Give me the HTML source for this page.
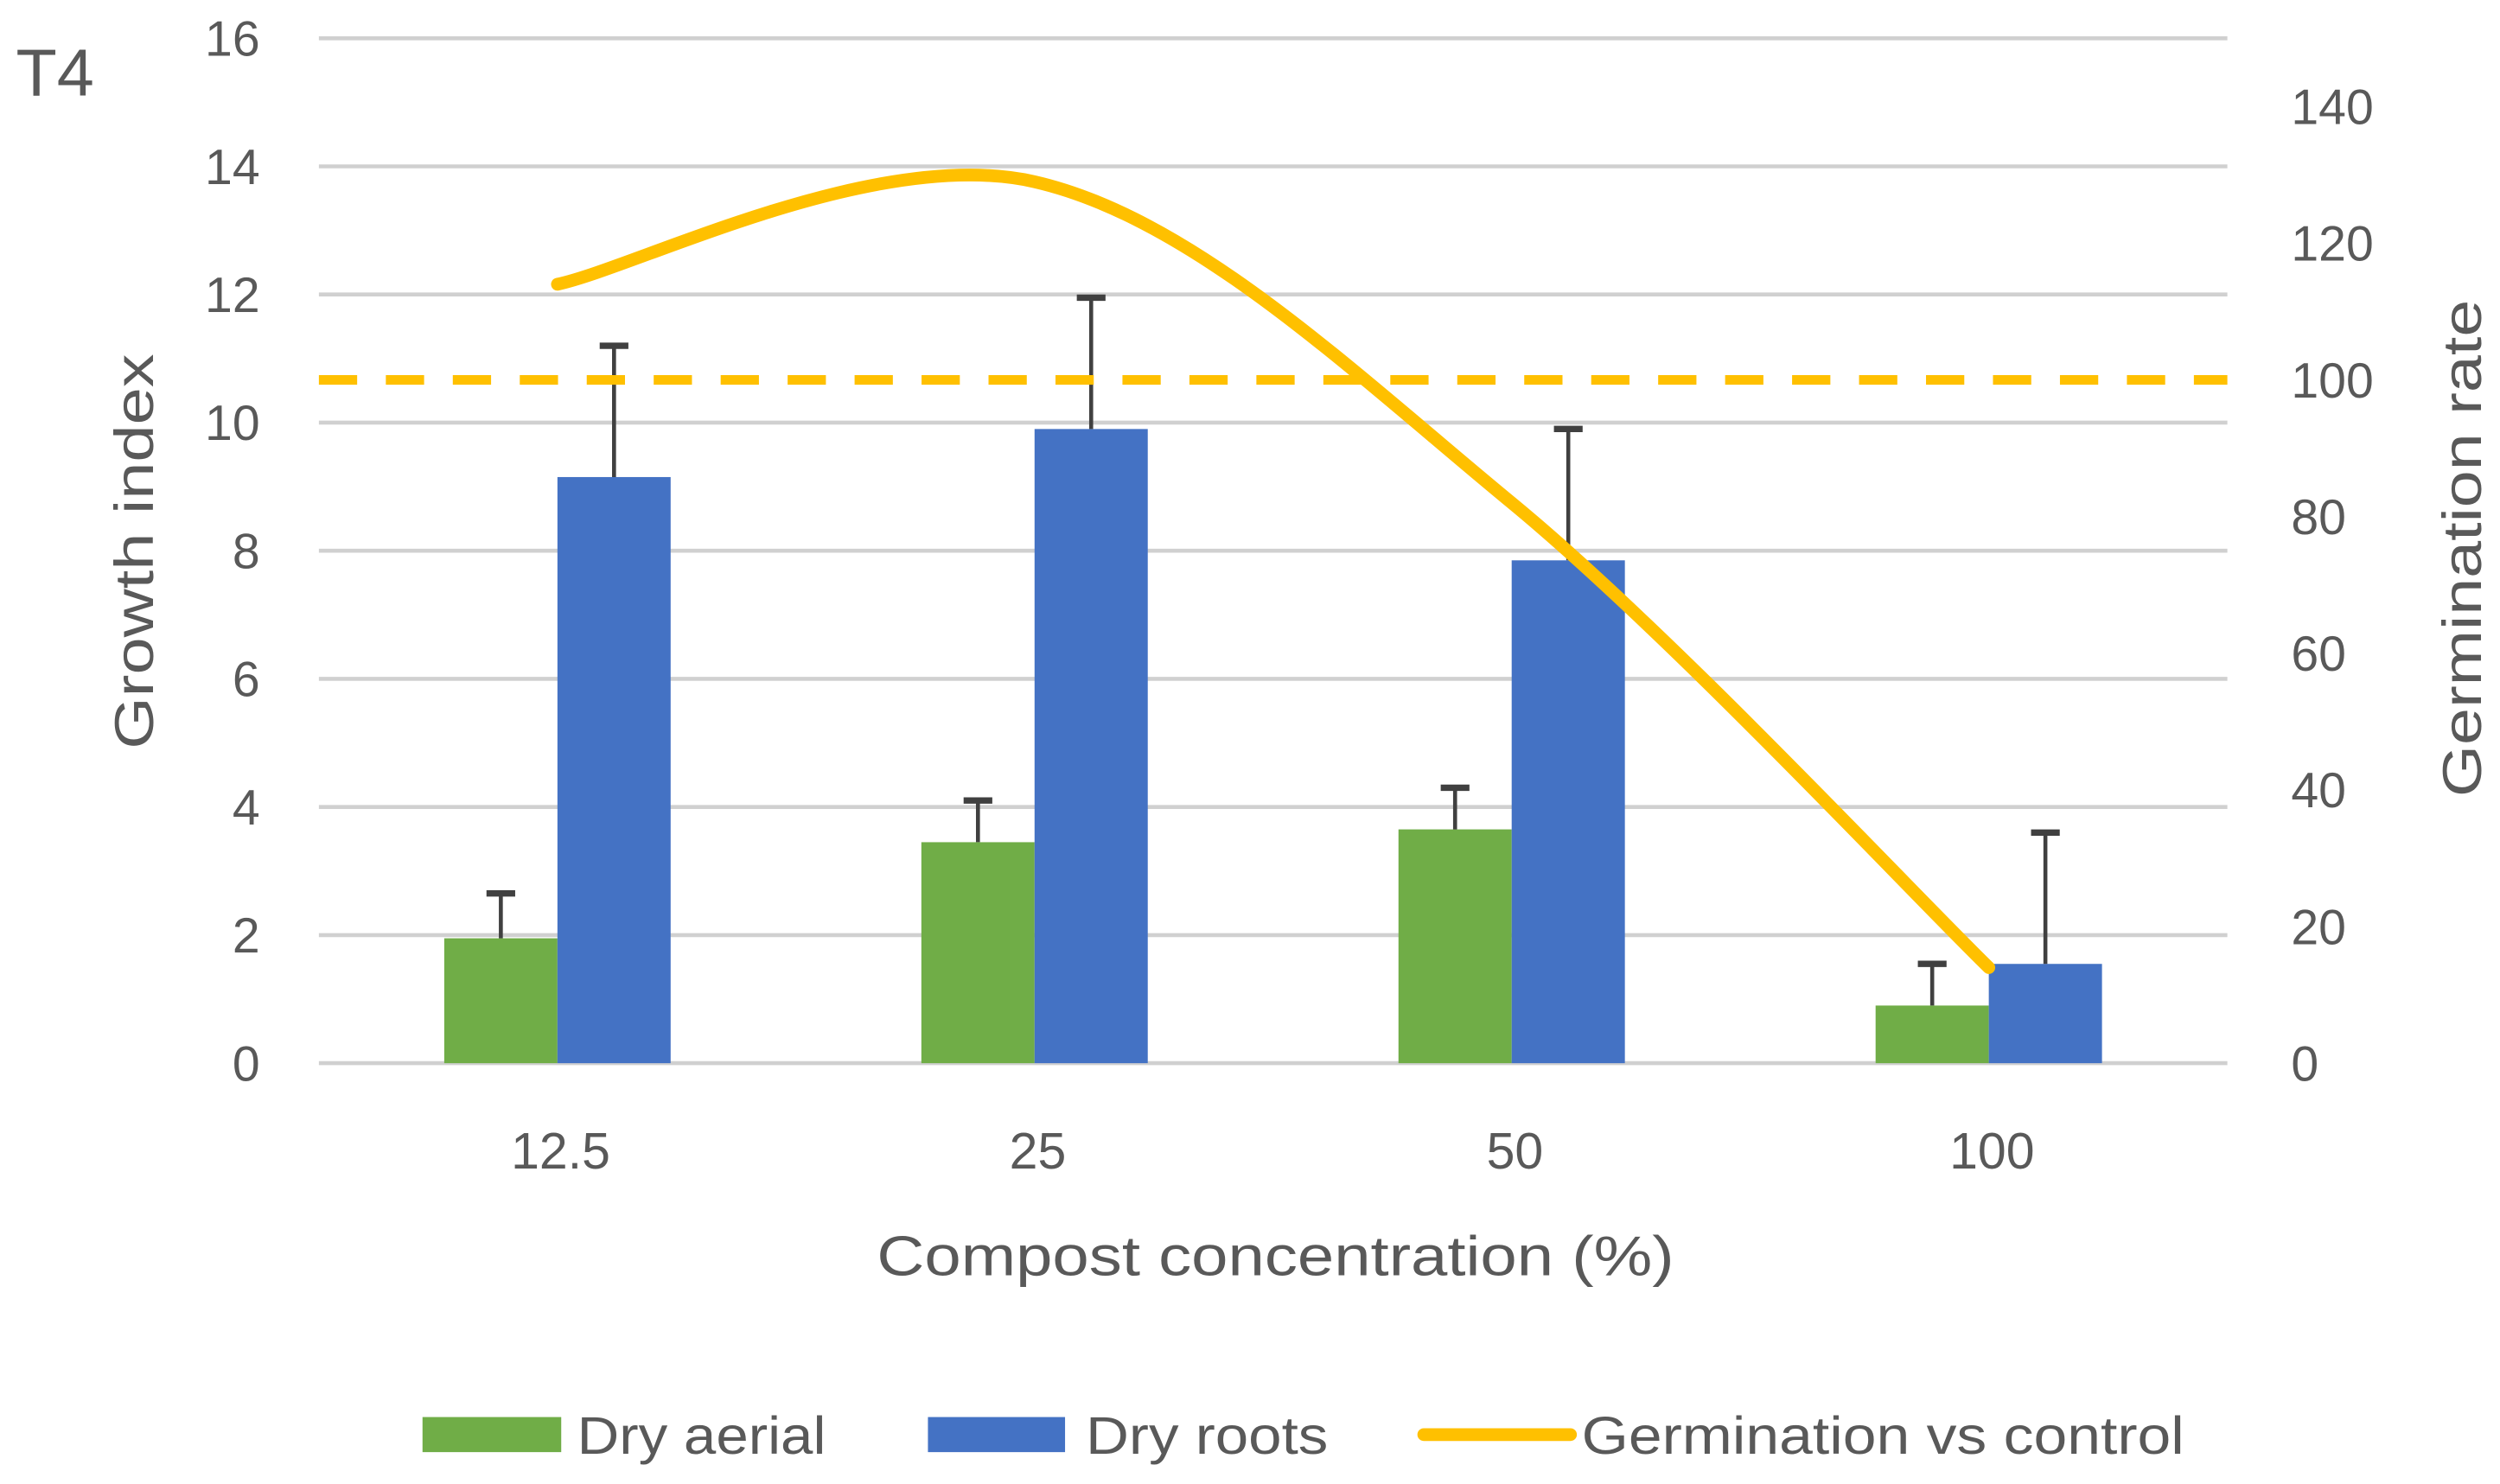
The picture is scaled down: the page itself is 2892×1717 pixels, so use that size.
<!DOCTYPE html>
<html><head><meta charset="utf-8"><style>
html,body{margin:0;padding:0;background:#fff;}
svg{display:block;}
text{font-family:"Liberation Sans",sans-serif;fill:#595959;}
</style></head><body>
<svg id="chart" width="2892" height="1717" viewBox="0 0 1568 931" preserveAspectRatio="none" xmlns="http://www.w3.org/2000/svg">
<rect width="1568" height="931" fill="#fff"/>
<g id="grid"></g>
<g id="bars"></g>
<g id="lines"></g>
<g id="labels"></g>
<text x="10" y="60" font-size="42">T4</text>
<text transform="translate(96,346) rotate(-90)" text-anchor="middle" font-size="34" textLength="248" lengthAdjust="spacingAndGlyphs">Growth index</text>
<text transform="translate(1556,344) rotate(-90)" text-anchor="middle" font-size="34" textLength="312" lengthAdjust="spacingAndGlyphs">Germination rate</text>
<text x="800" y="800" text-anchor="middle" font-size="35" textLength="500" lengthAdjust="spacingAndGlyphs">Compost concentration (%)</text>
<g>
<rect x="265" y="889" width="87" height="22" fill="#70AD47"/>
<text x="362" y="912" font-size="33" textLength="156" lengthAdjust="spacingAndGlyphs">Dry aerial</text>
<rect x="582" y="889" width="86" height="22" fill="#4472C4"/>
<text x="681" y="912" font-size="33" textLength="152" lengthAdjust="spacingAndGlyphs">Dry roots</text>
<line x1="893" y1="900" x2="985" y2="900" stroke="#FFC000" stroke-width="8" stroke-linecap="round"/>
<text x="992" y="912" font-size="33" textLength="378" lengthAdjust="spacingAndGlyphs">Germination vs control</text>
</g>
</svg>
<script>
const categories = ["12.5","25","50","100"];
const dryAerial = [1.95, 3.45, 3.65, 0.9];
const dryAerialErr = [0.7, 0.65, 0.65, 0.65];
const dryRoots = [9.15, 9.9, 7.85, 1.55];
const dryRootsErr = [2.05, 2.05, 2.05, 2.05];
const germination = [114, 129, 82, 14];
const controlLevel = 100;
const yTicks = [0,2,4,6,8,10,12,14,16];
const y2Ticks = [0,20,40,60,80,100,120,140];

const NS = "http://www.w3.org/2000/svg";
const X0 = 200, X1 = 1397, Y0 = 667, Y1 = 24;
const y = v => Y0 - (v / 16) * (Y0 - Y1);
const y2 = v => Y0 - (v / 150) * (Y0 - Y1);
const band = (X1 - X0) / categories.length;
const xc = i => X0 + band * (i + 0.5);
const BW = 71;

function mk(tag, attrs, parent) {
  const el = document.createElementNS(NS, tag);
  for (const k in attrs) el.setAttribute(k, attrs[k]);
  parent.appendChild(el);
  return el;
}
const grid = document.getElementById('grid');
const bars = document.getElementById('bars');
const lines = document.getElementById('lines');
const labels = document.getElementById('labels');

yTicks.forEach(t => {
  const l = mk('line', {x1: X0, x2: X1, y1: y(t), y2: y(t), stroke: '#d0d0d0', 'stroke-width': 2.5}, grid);
  
  
  const tx = mk('text', {x: 163, y: y(t) + 11, 'text-anchor': 'end', 'font-size': 31}, labels);
  tx.textContent = t;
  
  
});
y2Ticks.forEach(t => {
  const tx = mk('text', {x: 1437, y: y2(t) + 11, 'text-anchor': 'start', 'font-size': 31}, labels);
  tx.textContent = t;
  
  
});
categories.forEach((c, i) => {
  const tx = mk('text', {x: xc(i) + 2, y: 733, 'text-anchor': 'middle', 'font-size': 32}, labels);
  tx.textContent = c;
  
  
});

function errBar(cx, v, e) {
  const top = y(v + e);
  const l = mk('line', {x1: cx, x2: cx, y1: y(v), y2: top, stroke: '#404040', 'stroke-width': 2.5}, bars);
  
  
  const c = mk('line', {x1: cx - 9, x2: cx + 9, y1: top, y2: top, stroke: '#404040', 'stroke-width': 4}, bars);
  
  
}
categories.forEach((c, i) => {
  const cx = xc(i);
  const g = mk('rect', {x: cx - BW, y: y(dryAerial[i]), width: BW, height: Y0 - y(dryAerial[i]), fill: '#70AD47'}, bars);
  
  
  const b = mk('rect', {x: cx, y: y(dryRoots[i]), width: BW, height: Y0 - y(dryRoots[i]), fill: '#4472C4'}, bars);
  
  
  errBar(cx - BW / 2, dryAerial[i], dryAerialErr[i]);
  errBar(cx + BW / 2, dryRoots[i], dryRootsErr[i]);
});

const dl = mk('line', {x1: X0, x2: X1, y1: y2(controlLevel), y2: y2(controlLevel), stroke: '#FFC000', 'stroke-width': 6, 'stroke-dasharray': '24 18'}, lines);



const pts = germination.map((v, i) => [xc(i), y2(v)]);
let d = 'M' + pts[0][0] + ',' + pts[0][1];
for (let i = 0; i < pts.length - 1; i++) {
  const p0 = pts[Math.max(0, i - 1)], p1 = pts[i], p2 = pts[i + 1], p3 = pts[Math.min(pts.length - 1, i + 2)];
  const t = 1 / 6;
  const c1 = [p1[0] + (p2[0] - p0[0]) * t, p1[1] + (p2[1] - p0[1]) * t];
  const c2 = [p2[0] - (p3[0] - p1[0]) * t, p2[1] - (p3[1] - p1[1]) * t];
  d += ' C' + c1.join(',') + ' ' + c2.join(',') + ' ' + p2.join(',');
}
const gl = mk('path', {d: d, fill: 'none', stroke: '#FFC000', 'stroke-width': 8, 'stroke-linecap': 'round'}, lines);


</script>
</body></html>
